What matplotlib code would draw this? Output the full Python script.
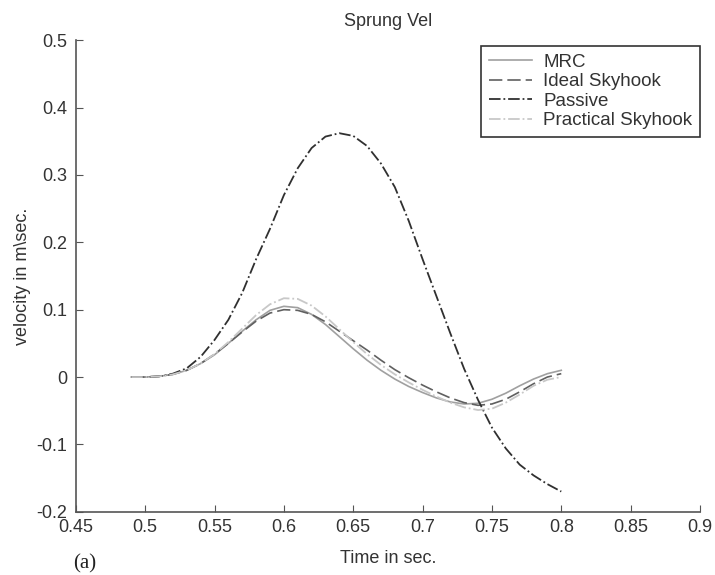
import numpy as np
import matplotlib.pyplot as plt

plt.rcParams['font.family'] = ['Liberation Sans', 'DejaVu Sans']

# tid (s)
t = [0.49, 0.50, 0.51, 0.52, 0.53, 0.54, 0.55, 0.56, 0.57, 0.58, 0.59,
     0.60, 0.61, 0.62, 0.63, 0.64, 0.65, 0.66, 0.67, 0.68, 0.69, 0.70,
     0.71, 0.72, 0.73, 0.74, 0.75, 0.76, 0.77, 0.78, 0.79, 0.80]

mrc = [0, 0, 0.001, 0.004, 0.01, 0.02, 0.033, 0.05, 0.068, 0.085, 0.099,
       0.105, 0.103, 0.093, 0.078, 0.06, 0.042, 0.025, 0.01, -0.003, -0.014, -0.023,
       -0.031, -0.037, -0.04, -0.039, -0.033, -0.024, -0.013, -0.003, 0.005, 0.01]

ideal = [0, 0, 0.001, 0.004, 0.01, 0.02, 0.034, 0.05, 0.067, 0.083, 0.095,
         0.10, 0.099, 0.093, 0.082, 0.068, 0.054, 0.04, 0.025, 0.011, -0.001, -0.012,
         -0.022, -0.031, -0.038, -0.042, -0.04, -0.033, -0.022, -0.01, 0.0, 0.005]

passive = [0, 0, 0.001, 0.005, 0.013, 0.03, 0.055, 0.085, 0.125, 0.175, 0.22,
           0.27, 0.31, 0.34, 0.357, 0.362, 0.358, 0.343, 0.317, 0.282, 0.232, 0.175,
           0.12, 0.065, 0.012, -0.034, -0.075, -0.106, -0.13, -0.146, -0.159, -0.17]

practical = [0, 0, 0.001, 0.004, 0.01, 0.02, 0.034, 0.052, 0.072, 0.092, 0.108,
             0.117, 0.116, 0.106, 0.09, 0.071, 0.052, 0.034, 0.018, 0.004, -0.008, -0.019,
             -0.029, -0.038, -0.045, -0.049, -0.047, -0.038, -0.026, -0.013, -0.004, 0.0]

fig = plt.figure(figsize=(7.15, 5.75), dpi=100)
ax = fig.add_axes([0.106, 0.110, 0.873, 0.820])

ax.plot(t, mrc, color='#a0a0a0', lw=1.2, label='MRC')
ax.plot(t, ideal, color='#606060', lw=1.2, ls=(0, (8, 3)), label='Ideal Skyhook')
ax.plot(t, passive, color='#303030', lw=1.3, ls='-.', label='Passive')
ax.plot(t, practical, color='#c8c8c8', lw=1.3, ls='-.', label='Practical Skyhook')

ax.set_xlim(0.45, 0.9)
ax.set_ylim(-0.2, 0.5)
ax.set_xticks(np.arange(0.45, 0.901, 0.05))
ax.set_xticklabels(['0.45', '0.5', '0.55', '0.6', '0.65', '0.7', '0.75', '0.8', '0.85', '0.9'])
ax.set_yticks(np.arange(-0.2, 0.501, 0.1))
ax.set_yticklabels(['-0.2', '-0.1', '0', '0.1', '0.2', '0.3', '0.4', '0.5'])

ax.spines['top'].set_visible(False)
ax.spines['right'].set_visible(False)
for s in ['left', 'bottom']:
    ax.spines[s].set_color('#555555')
    ax.spines[s].set_linewidth(1.2)
ax.tick_params(direction='in', length=5, colors='#555555', labelcolor='#333333', labelsize=13)
ax.tick_params(axis='x', pad=5)
ax.tick_params(axis='y', pad=6)

ax.set_title('Sprung Vel', fontsize=13, color='#333333', pad=10)
ax.set_xlabel('Time in sec.', fontsize=13, color='#333333', labelpad=10)
ax.set_ylabel('velocity in m\\sec.', fontsize=13, color='#333333', labelpad=4)

leg = ax.legend(loc='upper right', bbox_to_anchor=(1.0, 0.987), borderaxespad=0,
                fontsize=13.5, fancybox=False, edgecolor='#333333', framealpha=1,
                handlelength=2.3, handletextpad=0.6, borderpad=0.4, labelspacing=0.12)
leg.get_frame().set_linewidth(1.2)
for txt in leg.get_texts():
    txt.set_color('#333333')

fig.text(0.102, 0.012, '(a)', fontsize=15, family='Liberation Serif', color='#222222')

plt.savefig('out.png')
